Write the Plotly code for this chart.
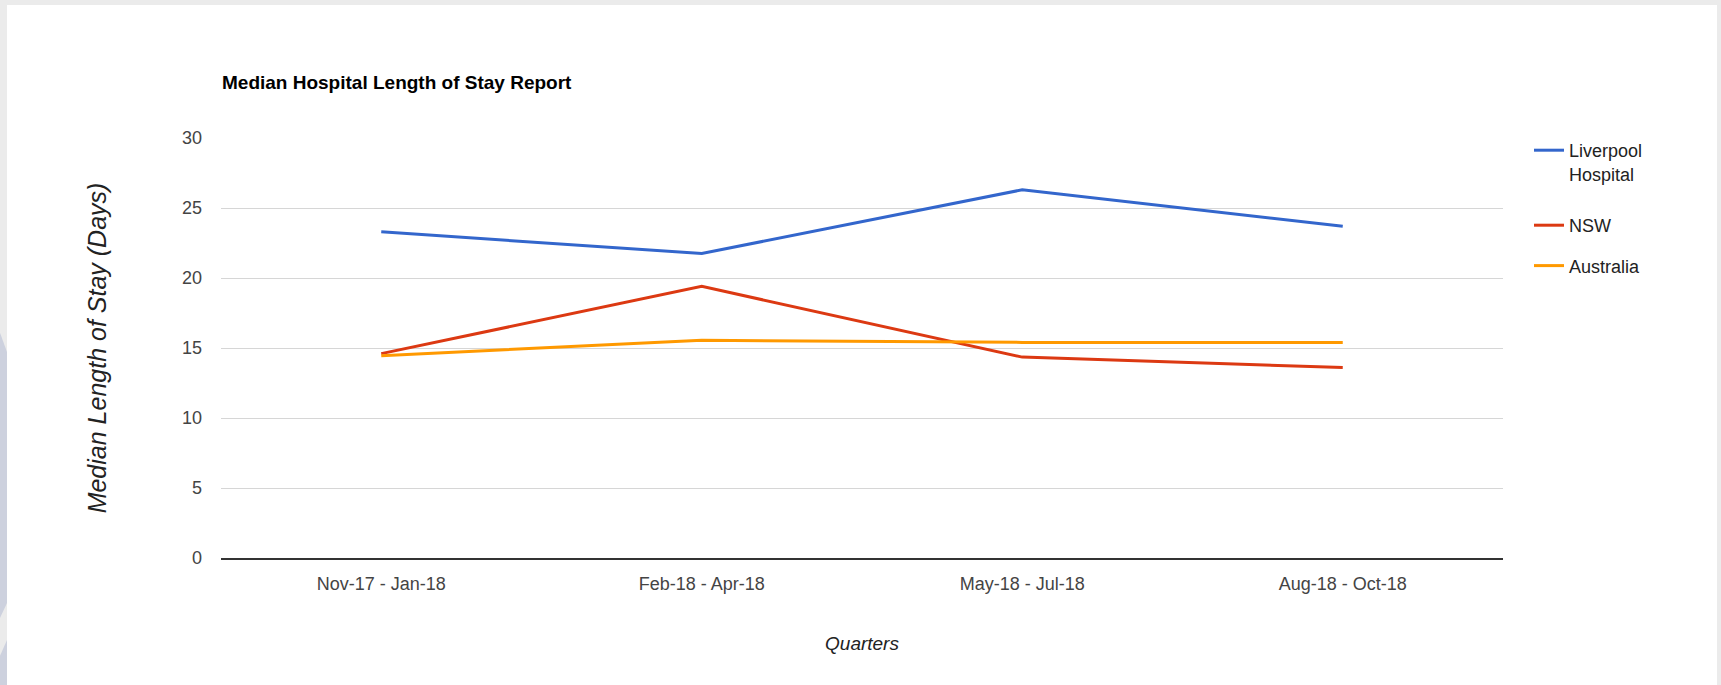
import plotly.graph_objects as go

quarters = ["Nov-17 - Jan-18", "Feb-18 - Apr-18", "May-18 - Jul-18", "Aug-18 - Oct-18"]
liverpool = [23.3, 21.75, 26.3, 23.7]
nsw = [14.6, 19.4, 14.35, 13.6]
australia = [14.45, 15.55, 15.4, 15.4]

series_names = ["Liverpool<br>Hospital", "NSW", "Australia"]
series_values = [liverpool, nsw, australia]
series_colors = ["#3366cc", "#dc3912", "#ff9900"]
series_legends = ["legend", "legend2", "legend2"]

W, H = 1721, 685
L, R, T, B = 221, 1503, 138, 558

FONT = "Liberation Sans, Arial, sans-serif"

fig = go.Figure()
for name, vals, col, lg in zip(series_names, series_values, series_colors, series_legends):
    fig.add_trace(go.Scatter(
        x=quarters, y=vals, name=name, mode="lines",
        line=dict(color=col, width=3), legendgroup=name, legend=lg,
    ))

def px_x(p):
    return (p - L) / (R - L)

def px_y(p):
    return (B - p) / (B - T)

shapes = [
    dict(type="rect", xref="paper", yref="paper", layer="below",
         x0=px_x(7), x1=px_x(1717), y0=px_y(690), y1=px_y(5),
         fillcolor="#ffffff", line=dict(width=0)),
    dict(type="path", xref="paper", yref="paper", layer="below",
         path=f"M {px_x(-1)},{px_y(330)} L {px_x(7)},{px_y(352)} L {px_x(7)},{px_y(690)} L {px_x(-1)},{px_y(690)} Z",
         fillcolor="#cdd1de", line=dict(width=0)),
    dict(type="path", xref="paper", yref="paper", layer="below",
         path=f"M {px_x(-1)},{px_y(620)} L {px_x(7)},{px_y(603)} L {px_x(7)},{px_y(640)} L {px_x(-1)},{px_y(658)} Z",
         fillcolor="#ebebeb", line=dict(width=0)),
]

legend_style = dict(
    xanchor="left", yanchor="top",
    font=dict(family=FONT, size=18, color="#222222"),
    valign="top", tracegroupgap=14, bgcolor="rgba(0,0,0,0)",
)

fig.update_layout(
    width=W, height=H, autosize=False,
    margin=dict(l=L, r=W - R, t=T, b=H - B, pad=0),
    paper_bgcolor="#ebebeb", plot_bgcolor="#ffffff",
    shapes=shapes,
    title=dict(text="<b>Median Hospital Length of Stay Report</b>",
               font=dict(family=FONT, size=19, color="#000000"),
               xref="paper", x=px_x(222), xanchor="left",
               yref="container", y=1 - 82 / H, yanchor="middle"),
    xaxis=dict(
        type="category", range=[-0.5, 3.5], showgrid=False,
        showline=True, linecolor="#333333", linewidth=1.6,
        ticks="", tickfont=dict(family=FONT, size=18, color="#444444"),
        ticklabelstandoff=9,
        title=dict(text="<i>Quarters</i>", standoff=43,
                   font=dict(family=FONT, size=19, color="#222222")),
        zeroline=False,
    ),
    yaxis=dict(
        range=[0, 30], tickvals=[0, 5, 10, 15, 20, 25, 30],
        showgrid=True, gridcolor="#d6d6d6", gridwidth=1,
        zeroline=False, ticks="",
        tickfont=dict(family=FONT, size=18, color="#444444"),
        ticklabelstandoff=18,
        title=dict(text="<i>Median Length of Stay (Days)</i>", standoff=68,
                   font=dict(family=FONT, size=25, color="#222222")),
    ),
    legend=dict(x=px_x(1529), y=px_y(132), **legend_style),
    legend2=dict(x=px_x(1529), y=px_y(207), **legend_style),
    showlegend=True,
)

fig.write_html("out.html")
